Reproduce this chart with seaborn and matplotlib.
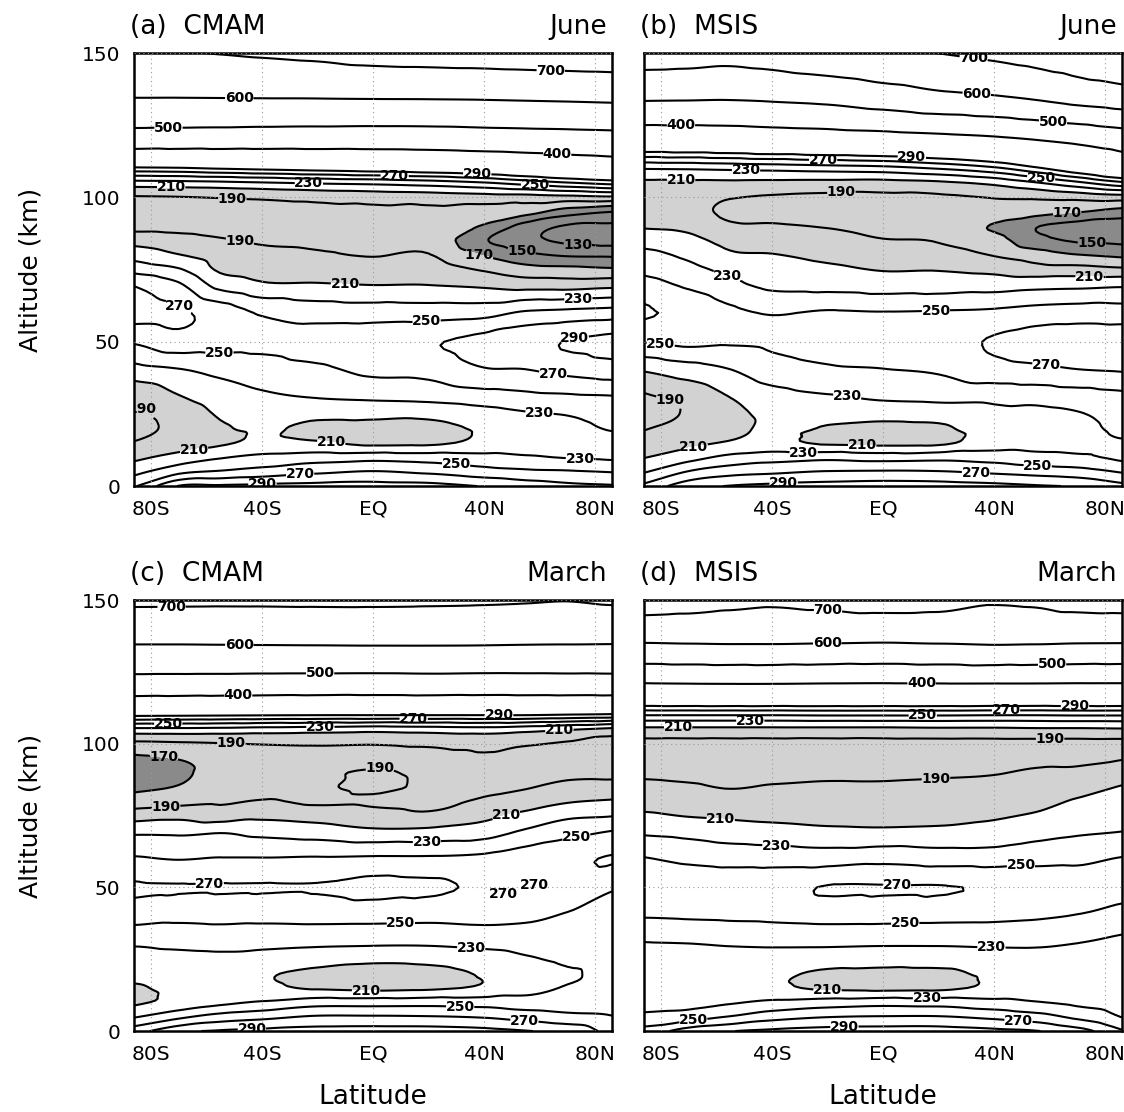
import numpy as np
import matplotlib
matplotlib.use("Agg")
import matplotlib.pyplot as plt
import matplotlib.tri as mtri
import seaborn as sns

sns.set_style("white")
plt.rcParams['font.family'] = ['DejaVu Sans']
plt.rcParams.update({'text.color': 'black', 'axes.labelcolor': 'black',
                     'xtick.color': 'black', 'ytick.color': 'black'})

# grid the temperatures were read on
lats = [-86, -70, -55, -40, -20, 0, 20, 40, 55, 70, 86]
alts = [0, 5, 10, 15, 20, 25, 30, 40, 50, 60, 70, 75, 80, 85, 90, 95, 100, 105, 110, 120, 135, 150]

# temperature (K), one row per altitude, one column per latitude
t_cmam_june = [
    [248, 291, 293, 295, 297, 298, 297, 289, 281, 275, 272],
    [224, 244, 252, 258, 266, 271, 266, 258, 254, 252, 249],
    [205, 218, 228, 235, 240, 242, 240, 236, 232, 229, 227],
    [191, 198, 207, 214, 212, 205, 206, 215, 222, 225, 226],
    [184, 195, 208, 212, 206, 203, 205, 213, 220, 226, 231],
    [186, 198, 212, 216, 215, 216, 215, 222, 228, 231, 236],
    [191, 207, 218, 225, 229, 231, 233, 238, 242, 244, 246],
    [222, 228, 235, 240, 246, 254, 256, 268, 269, 275, 280],
    [252, 262, 258, 255, 258, 262, 268, 277, 283, 291, 296],
    [277, 273, 262, 248, 242, 241, 241, 243, 253, 256, 259],
    [268, 252, 222, 212, 211, 209, 209, 205, 200, 199, 202],
    [243, 232, 207, 203, 201, 200, 199, 188, 178, 176, 173],
    [222, 211, 201, 195, 192, 189, 191, 169, 155, 148, 147],
    [203, 198, 192, 188, 187, 185, 183, 152, 136, 127, 124],
    [184, 184, 183, 182, 181, 180, 178, 168, 142, 128, 127],
    [180, 181, 182, 183, 185, 186, 186, 182, 178, 160, 150],
    [188, 189, 191, 193, 196, 198, 199, 201, 201, 203, 206],
    [222, 223, 225, 228, 232, 235, 240, 248, 258, 268, 277],
    [284, 286, 291, 295, 300, 305, 310, 318, 328, 340, 350],
    [450, 449, 448, 446, 445, 444, 446, 452, 456, 460, 465],
    [604, 604, 605, 606, 607, 609, 610, 612, 615, 618, 622],
    [690, 695, 703, 711, 721, 736, 742, 747, 752, 756, 760],
]

t_msis_june = [
    [255, 282, 291, 295, 298, 300, 299, 296, 292, 288, 276],
    [228, 251, 262, 266, 271, 272, 271, 266, 262, 258, 248],
    [209, 222, 235, 241, 244, 241, 243, 241, 236, 233, 226],
    [197, 205, 212, 215, 207, 205, 206, 220, 224, 226, 229],
    [189, 196, 205, 213, 209, 206, 207, 220, 222, 226, 233],
    [184, 192, 205, 214, 215, 216, 218, 226, 226, 229, 236],
    [186, 194, 209, 220, 226, 231, 233, 233, 234, 237, 242],
    [211, 220, 229, 241, 247, 249, 252, 262, 265, 269, 271],
    [251, 255, 252, 253, 256, 259, 263, 272, 278, 280, 281],
    [272, 266, 254, 249, 252, 251, 252, 254, 258, 260, 259],
    [257, 246, 234, 225, 222, 219, 219, 220, 222, 223, 225],
    [245, 236, 225, 220, 214, 209, 209, 205, 198, 198, 194],
    [236, 226, 213, 211, 205, 200, 197, 189, 180, 171, 166],
    [222, 216, 204, 201, 197, 191, 189, 178, 157, 148, 146],
    [208, 205, 193, 192, 189, 185, 185, 168, 151, 143, 141],
    [198, 196, 186, 184, 182, 181, 182, 184, 178, 171, 162],
    [195, 193, 191, 188, 186, 186, 187, 191, 193, 196, 200],
    [206, 206, 206, 205, 204, 203, 206, 215, 228, 245, 265],
    [231, 232, 234, 236, 239, 242, 251, 265, 285, 310, 340],
    [340, 342, 345, 351, 356, 362, 372, 385, 401, 420, 445],
    [517, 515, 513, 519, 531, 555, 580, 596, 615, 640, 660],
    [650, 645, 636, 648, 672, 690, 701, 722, 740, 760, 780],
]

t_cmam_march = [
    [262, 285, 292, 295, 298, 299, 299, 296, 291, 284, 262],
    [228, 245, 258, 264, 272, 272, 271, 268, 262, 256, 251],
    [207, 216, 225, 232, 241, 241, 242, 241, 238, 238, 238],
    [208, 214, 216, 214, 208, 205, 207, 213, 224, 231, 232],
    [216, 218, 218, 212, 206, 203, 205, 212, 222, 229, 231],
    [224, 225, 226, 222, 218, 214, 215, 220, 228, 232, 231],
    [231, 233, 234, 234, 232, 231, 231, 234, 236, 236, 233],
    [258, 255, 256, 255, 256, 256, 255, 256, 254, 248, 241],
    [272, 271, 271, 271, 271, 275, 273, 268, 268, 262, 252],
    [252, 249, 251, 251, 252, 253, 253, 255, 261, 266, 271],
    [224, 224, 226, 222, 218, 212, 213, 218, 231, 241, 249],
    [200, 204, 198, 205, 202, 196, 193, 205, 216, 226, 229],
    [180, 184, 188, 191, 187, 188, 187, 192, 198, 208, 212],
    [165, 171, 182, 184, 188, 193, 188, 188, 189, 194, 195],
    [160, 166, 178, 182, 188, 191, 188, 188, 187, 187, 187],
    [167, 171, 178, 183, 186, 187, 187, 189, 187, 186, 185],
    [185, 187, 189, 191, 192, 191, 193, 195, 192, 188, 184],
    [225, 225, 224, 222, 220, 218, 220, 222, 218, 212, 205],
    [295, 294, 293, 292, 291, 291, 291, 291, 291, 288, 285],
    [450, 449, 448, 446, 445, 444, 446, 444, 445, 446, 447],
    [604, 604, 605, 606, 607, 608, 608, 607, 605, 604, 603],
    [718, 717, 716, 716, 717, 717, 715, 712, 708, 703, 712],
]

t_msis_march = [
    [258, 280, 289, 294, 298, 299, 299, 295, 291, 278, 252],
    [235, 240, 251, 262, 269, 271, 271, 265, 258, 245, 229],
    [222, 224, 228, 234, 239, 242, 241, 236, 231, 226, 222],
    [218, 219, 220, 214, 207, 205, 206, 214, 221, 221, 221],
    [217, 218, 219, 214, 207, 205, 206, 214, 219, 221, 221],
    [220, 221, 222, 221, 219, 219, 219, 221, 222, 223, 222],
    [228, 229, 231, 232, 232, 231, 231, 232, 232, 229, 225],
    [251, 252, 253, 254, 256, 256, 255, 254, 252, 249, 241],
    [262, 261, 262, 264, 271, 271, 271, 268, 262, 258, 258],
    [251, 246, 243, 242, 241, 244, 241, 241, 244, 246, 251],
    [225, 222, 218, 216, 213, 212, 213, 215, 221, 226, 229],
    [213, 209, 207, 205, 203, 203, 204, 208, 212, 218, 222],
    [202, 200, 198, 197, 196, 197, 198, 201, 204, 212, 216],
    [194, 192, 189, 191, 192, 192, 193, 195, 197, 202, 211],
    [187, 186, 185, 186, 187, 187, 188, 189, 192, 193, 200],
    [183, 183, 183, 183, 183, 183, 184, 184, 186, 187, 189],
    [185, 185, 185, 185, 185, 185, 185, 185, 185, 185, 185],
    [205, 205, 205, 205, 205, 205, 206, 206, 207, 207, 208],
    [251, 251, 251, 251, 252, 252, 252, 251, 251, 252, 252],
    [385, 387, 388, 388, 386, 385, 386, 386, 386, 385, 385],
    [599, 602, 604, 604, 601, 598, 602, 607, 605, 601, 600],
    [752, 742, 728, 718, 728, 740, 735, 712, 718, 735, 740],
]

panels = [
    ("(a)  CMAM", "June", t_cmam_june),
    ("(b)  MSIS", "June", t_msis_june),
    ("(c)  CMAM", "March", t_cmam_march),
    ("(d)  MSIS", "March", t_msis_march),
]

levels = [130, 150, 170, 190, 210, 230, 250, 270, 290, 400, 500, 600, 700]
lat_ticks = [-80, -40, 0, 40, 80]
lat_labels = ["80S", "40S", "EQ", "40N", "80N"]

# axes boxes in figure fractions (left, bottom, width, height)
boxes = [
    [0.1192, 0.5629, 0.4253, 0.3894],
    [0.5730, 0.5629, 0.4253, 0.3894],
    [0.1192, 0.0728, 0.4253, 0.3876],
    [0.5730, 0.0728, 0.4253, 0.3876],
]

# triangulate the regular grid and refine it with a cubic interpolator
LAT, ALT = np.meshgrid(lats, alts)
nx, ny = len(lats), len(alts)
triangles = []
for j in range(ny - 1):
    for i in range(nx - 1):
        p = j * nx + i
        triangles.append([p, p + 1, p + nx + 1])
        triangles.append([p, p + nx + 1, p + nx])
tri = mtri.Triangulation(LAT.ravel(), ALT.ravel(), triangles)
refiner = mtri.UniformTriRefiner(tri)

fig = plt.figure(figsize=(11.24, 11.12), dpi=100)

for k, (title, month, temps) in enumerate(panels):
    ax = fig.add_axes(boxes[k])
    z = np.array(temps, dtype=float).ravel()
    interp = mtri.CubicTriInterpolator(tri, z, kind='geom')
    tri_f, z_f = refiner.refine_field(z, triinterpolator=interp, subdiv=3)

    ax.tricontourf(tri_f, z_f, levels=[0, 170, 210, 5000],
                   colors=['#8a8a8a', '#d2d2d2', 'white'])
    cs = ax.tricontour(tri_f, z_f, levels=levels, colors='black', linewidths=1.5)
    labels = ax.clabel(cs, fmt='%d', fontsize=10, inline=True, inline_spacing=1)
    for t in labels:
        t.set_rotation(0)
        t.set_fontweight('bold')

    if k == 2:
        # stray labels drawn in the original panel
        ax.text(47, 47.7, "270", fontsize=10, fontweight='bold', ha='center', va='center')
        ax.text(58, 50.8, "270", fontsize=10, fontweight='bold', ha='center', va='center')

    ax.set_xlim(-86, 86)
    ax.set_ylim(0, 150)
    ax.set_xticks(lat_ticks)
    ax.set_yticks([0, 50, 100, 150])
    ax.grid(True, linestyle=(0, (1, 3)), color='#9a9a9a', linewidth=0.8)
    ax.set_axisbelow(False)
    ax.tick_params(direction='out', length=6, width=1.3, labelsize=14.5, pad=4)
    ax.set_xticklabels(lat_labels)
    if k % 2 == 1:
        ax.set_yticklabels([])
    for sp in ax.spines.values():
        sp.set_linewidth(1.8)
        sp.set_color('black')

    ax.text(-0.008, 1.045, title, transform=ax.transAxes, fontsize=19,
            ha='left', va='baseline')
    ax.text(0.99, 1.045, month, transform=ax.transAxes, fontsize=19,
            ha='right', va='baseline')

fig.text(0.0267, 0.7576, "Altitude (km)", rotation=90, fontsize=18,
         ha='center', va='center')
fig.text(0.0267, 0.2666, "Altitude (km)", rotation=90, fontsize=18,
         ha='center', va='center')
fig.text(0.332, 0.0135, "Latitude", fontsize=19, ha='center', va='center')
fig.text(0.7856, 0.0135, "Latitude", fontsize=19, ha='center', va='center')

fig.savefig("out.png", dpi=100)
